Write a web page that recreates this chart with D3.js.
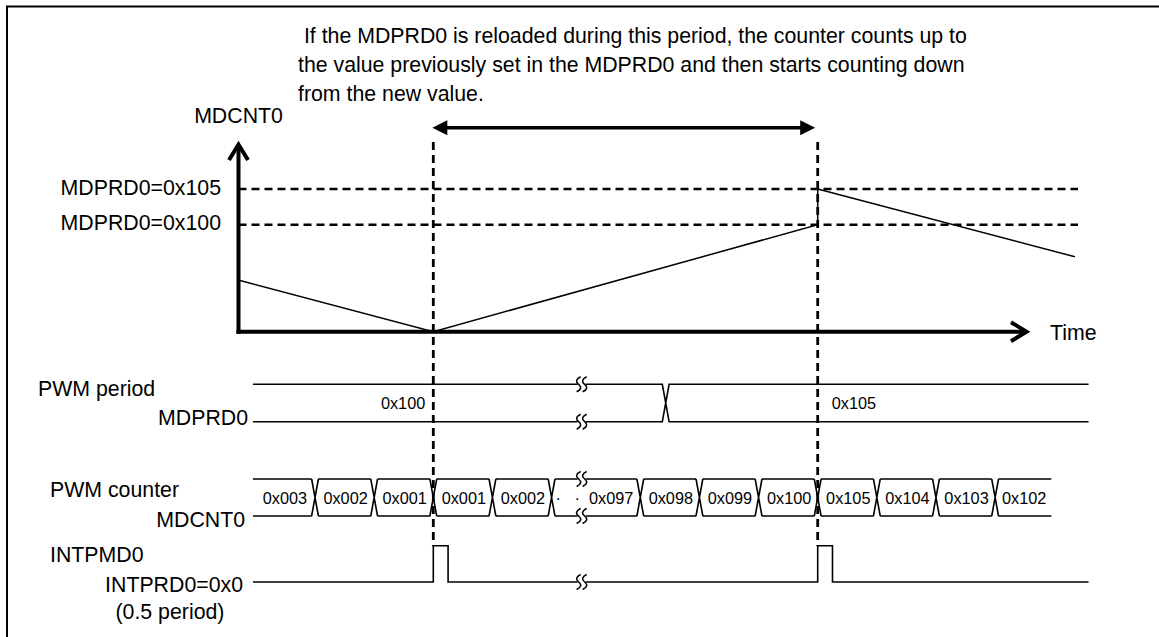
<!DOCTYPE html>
<html>
<head>
<meta charset="utf-8">
<script src="https://cdn.jsdelivr.net/npm/d3@7"></script>
<style>
  html, body { margin: 0; padding: 0; background: #fff; }
  svg { display: block; }
  text { font-family: "Liberation Sans", Arial, sans-serif; fill: #000; white-space: pre; }
</style>
</head>
<body>
<svg id="chart" width="1159" height="637"></svg>
<script>
// ---------------- data ----------------
const noteLines = [
  " If the MDPRD0 is reloaded during this period, the counter counts up to",
  "the value previously set in the MDPRD0 and then starts counting down",
  "from the new value."
];
// MDCNT0 triangle wave (time in PWM clock units, level in schematic units)
const waveTime  = [-3.3, 0, 6.5, 6.5, 10.85];
const waveLevel = [1.45, 0, 3, 4, 2.1];
// reference (period register) levels
const refLabels = ["MDPRD0=0x105", "MDPRD0=0x100"];
const refLevels = [4, 3];
// reload events (dashed verticals)
const eventTimes = [0, 6.5];
// PWM period register row
const periodLabels = ["0x100", "0x105"];
const periodSwitch = [3.93];
const rowSpan = [-3.05, 11.08];
// PWM counter row
const counterLabels = ["0x003", "0x002", "0x001", "0x001", "0x002", "\u00b7   \u00b7  0x097",
  "0x098", "0x099", "0x100", "0x105", "0x104", "0x103", "0x102"];
const counterEdges = [-3.05, -2, -1, 0, 1, 2, 3.5, 4.5, 5.5, 6.5, 7.5, 8.5, 9.5, 10.45];
// INTPMD0 pulses
const pulseTimes = [0, 6.5];
const pulseWidth = [0.25];
// time axis break
const breakTimes = [2.5];

// ---------------- scales ----------------
const svg = d3.select("#chart");
const x = d3.scaleLinear().domain([0, 6.5]).range([433.3, 817.7]);
const y = d3.scaleLinear().domain([0, 4]).range([331.7, 189]);

const axisX0 = 238.5, axisY0 = 331.7;
const FS = 21.3, FSS = 16.3;

// frame
svg.append("rect").attr("x", 7).attr("y", 6.5).attr("width", 1200).attr("height", 700)
  .attr("fill", "none").attr("stroke", "#000").attr("stroke-width", 2);

// note text
svg.selectAll("text.note").data(noteLines).join("text")
  .attr("class", "note")
  .attr("x", 298).attr("y", (d, i) => 42.5 + i * 29)
  .attr("font-size", FS).text(d => d);

// reference dashed lines
svg.selectAll("line.ref").data(refLevels).join("line")
  .attr("x1", axisX0).attr("x2", 1078)
  .attr("y1", d => y(d)).attr("y2", d => y(d))
  .attr("stroke", "#000").attr("stroke-width", 2.6).attr("stroke-dasharray", "8,5");
svg.selectAll("text.refl").data(refLabels).join("text")
  .attr("x", 221).attr("y", (d, i) => y(refLevels[i]) + 5.5)
  .attr("text-anchor", "end").attr("font-size", FS).text(d => d);

// event dashed verticals
svg.selectAll("line.ev").data(eventTimes).join("line")
  .attr("x1", d => x(d)).attr("x2", d => x(d))
  .attr("y1", 142).attr("y2", 546)
  .attr("stroke", "#000").attr("stroke-width", 2.8).attr("stroke-dasharray", "8,5");

// wave
const line = d3.line().x((d, i) => x(waveTime[i])).y(d => y(d));
svg.append("path").attr("d", line(waveLevel))
  .attr("fill", "none").attr("stroke", "#000").attr("stroke-width", 1.5);

// axes
svg.append("line").attr("x1", axisX0).attr("x2", axisX0).attr("y1", axisY0 + 2).attr("y2", 145)
  .attr("stroke", "#000").attr("stroke-width", 4);
svg.append("path").attr("d", `M${axisX0 - 9.5},${160} L${axisX0},${144.5} L${axisX0 + 9.5},${160}`)
  .attr("fill", "none").attr("stroke", "#000").attr("stroke-width", 4);
svg.append("line").attr("x1", axisX0 - 2).attr("x2", 1026).attr("y1", axisY0).attr("y2", axisY0)
  .attr("stroke", "#000").attr("stroke-width", 4);
svg.append("path").attr("d", `M1011,${axisY0 - 9.5} L1026.5,${axisY0} L1011,${axisY0 + 9.5}`)
  .attr("fill", "none").attr("stroke", "#000").attr("stroke-width", 4);
svg.append("text").attr("x", axisX0).attr("y", 123).attr("text-anchor", "middle")
  .attr("font-size", FS).text("MDCNT0");
svg.append("text").attr("x", 1050).attr("y", 339.5).attr("font-size", FS).text("Time");

// double arrow
const ay = 127.7, ax1 = x(eventTimes[0]) - 1, ax2 = x(eventTimes[1]) - 2.5;
svg.append("line").attr("x1", ax1 + 10).attr("x2", ax2 - 10).attr("y1", ay).attr("y2", ay)
  .attr("stroke", "#000").attr("stroke-width", 3.5);
svg.append("path").attr("d", `M${ax1},${ay} L${ax1 + 15},${ay - 7.5} L${ax1 + 15},${ay + 7.5}Z`);
svg.append("path").attr("d", `M${ax2},${ay} L${ax2 - 15},${ay - 7.5} L${ax2 - 15},${ay + 7.5}Z`);

// ---------------- lower timing rows ----------------
const sw = 1.6, hx = 3.4;
const g = svg.append("g").attr("fill", "none").attr("stroke", "#000").attr("stroke-width", sw);

// period row
const pTop = 384.3, pBot = 421.7;
const ps = x(periodSwitch[0]);
g.append("path").attr("d",
  `M${x(rowSpan[0])},${pTop} H${ps - hx} L${ps + hx},${pBot} H${x(rowSpan[1])}` +
  ` M${x(rowSpan[0])},${pBot} H${ps - hx} L${ps + hx},${pTop} H${x(rowSpan[1])}`);
svg.append("text").attr("x", x(eventTimes[0]) - 8).attr("y", 409).attr("text-anchor", "end")
  .attr("font-size", FSS).text(periodLabels[0]);
svg.append("text").attr("x", x(eventTimes[1]) + 14).attr("y", 409)
  .attr("font-size", FSS).text(periodLabels[1]);

// counter row
const cTop = 479, cBot = 516, cMid = (cTop + cBot) / 2;
let cd = "";
counterEdges.slice(0, -1).forEach((e, i) => {
  const a = x(e), b = x(counterEdges[i + 1]);
  const la = i === 0 ? a : a + hx, rb = i === counterEdges.length - 2 ? b : b - hx;
  cd += `M${la},${cTop} H${rb} M${la},${cBot} H${rb} `;
  if (i > 0) cd += `M${a - hx},${cTop} L${a + hx},${cBot} M${a - hx},${cBot} L${a + hx},${cTop} `;
});
g.append("path").attr("d", cd);
svg.selectAll("text.cnt").data(counterLabels).join("text")
  .attr("x", (d, i) => (x(counterEdges[i]) + x(counterEdges[i + 1])) / 2 + (i === 5 ? -1.5 : 1))
  .attr("y", cMid + 6).attr("text-anchor", "middle").attr("font-size", FSS).text(d => d);

// INTPMD0 row
const iHi = 545.7, iLo = 582;
let id = `M${x(rowSpan[0])},${iLo}`;
pulseTimes.forEach(t => {
  id += ` H${x(t)} V${iHi} H${x(t + pulseWidth[0])} V${iLo}`;
});
id += ` H${x(rowSpan[1])}`;
g.append("path").attr("d", id);

// break marks
function breakMark(bx, by) {
  svg.append("rect").attr("x", bx - 4).attr("y", by - 2).attr("width", 8).attr("height", 4).attr("fill", "#fff");
  [-3, 3].forEach(o => {
    const cx = bx + o;
    svg.append("path")
      .attr("d", `M${cx + 2},${by - 7.5} Q${cx - 5},${by - 4} ${cx},${by} Q${cx + 5},${by + 4} ${cx - 2},${by + 7.5}`)
      .attr("fill", "none").attr("stroke", "#000").attr("stroke-width", 1.6);
  });
}
breakTimes.forEach(t => {
  [pTop, pBot, cTop, cBot, iLo].forEach(r => breakMark(x(t) + 0.5, r));
});

// row labels
const rowLabel = (txt, lx, ly, anchor) => svg.append("text").attr("x", lx).attr("y", ly)
  .attr("text-anchor", anchor).attr("font-size", FS).text(txt);
rowLabel("PWM period", 38, 396, "start");
rowLabel("MDPRD0", 248, 425, "end");
rowLabel("PWM counter", 50, 496.5, "start");
rowLabel("MDCNT0", 245, 527, "end");
rowLabel("INTPMD0", 50, 562, "start");
rowLabel("INTPRD0=0x0", 243, 592, "end");
rowLabel("(0.5 period)", 115.5, 619, "start");
</script>
</body>
</html>
